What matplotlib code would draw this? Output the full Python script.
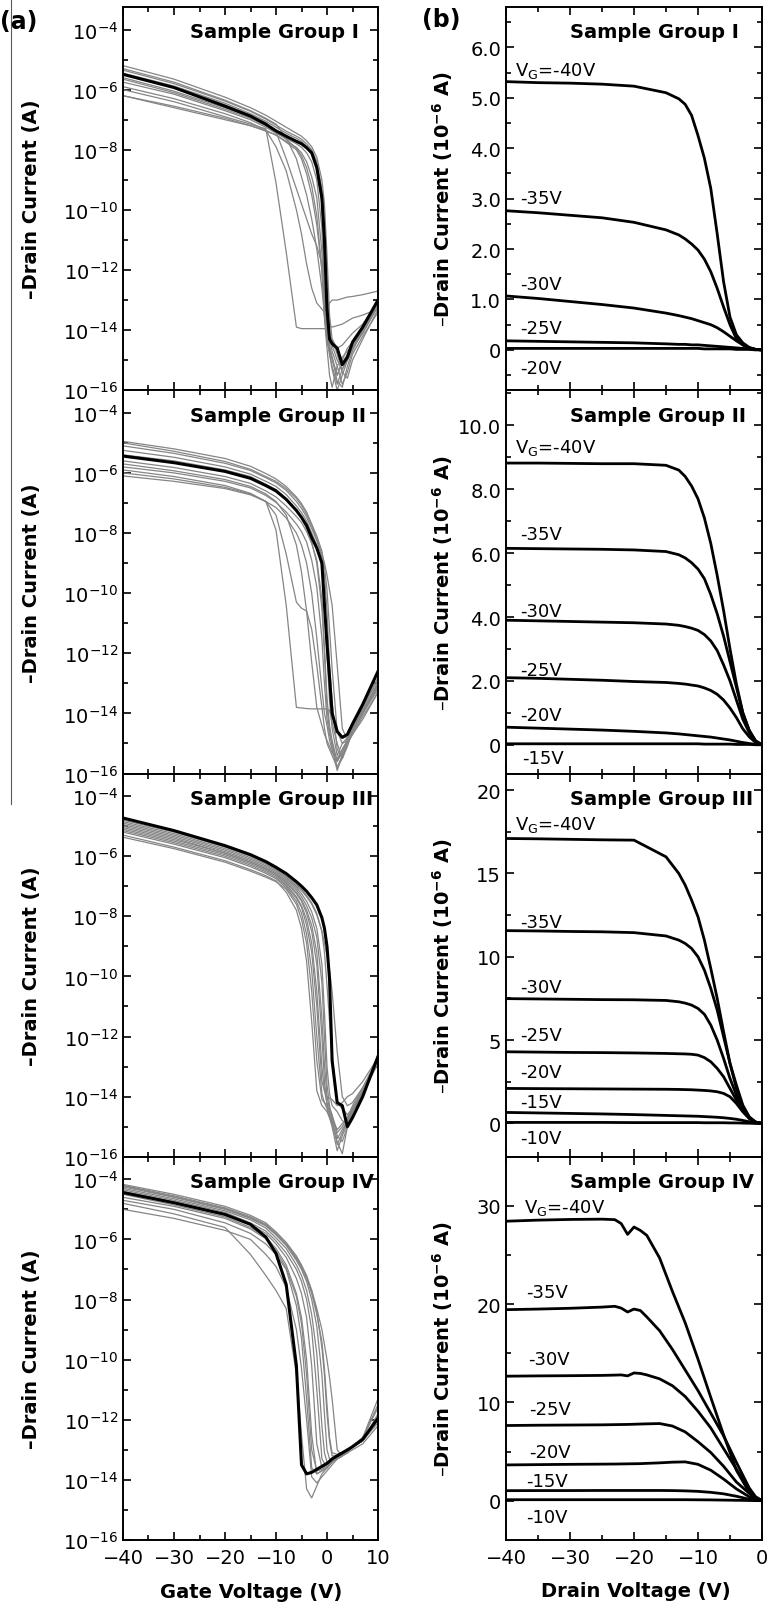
import matplotlib.pyplot as plt
from matplotlib.ticker import MultipleLocator, FixedLocator, NullFormatter, FuncFormatter
from matplotlib.lines import Line2D

# ---------------- (a) transfer curves, log10(-Id) on a shared gate-voltage grid
vg = [-40, -30, -20, -15, -12, -10, -8, -6, -5, -4, -3, -2, -1, -0.5, 0, 0.5, 1, 2, 3, 4, 5, 7, 10]

t1_black = [-5.49, -5.93, -6.55, -6.88, -7.15, -7.37, -7.55, -7.72, -7.8, -7.93, -8.1, -8.6, -9.6, -11.0, -13.3, -14.3, -14.45, -14.6, -15.15, -14.9, -14.4, -13.9, -13.0]
t1_gray = [
    [-5.2, -5.65, -6.25, -6.6, -6.85, -7.05, -7.25, -7.45, -7.55, -7.7, -7.9, -8.25, -9.0, -9.8, -11.5, -13.5, -14.3, -14.8, -15.4, -15.6, -15.0, -14.3, -13.3],
    [-5.35, -5.8, -6.38, -6.72, -6.98, -7.18, -7.38, -7.55, -7.65, -7.8, -8.0, -8.4, -9.3, -10.5, -12.6, -14.2, -14.7, -15.2, -15.8, -15.4, -14.8, -14.2, -13.4],
    [-5.6, -6.05, -6.6, -6.92, -7.18, -7.38, -7.55, -7.7, -7.8, -7.95, -8.15, -8.6, -9.7, -11.6, -13.6, -14.5, -14.9, -15.5, -15.1, -14.8, -14.5, -13.9, -13.1],
    [-5.75, -6.15, -6.7, -7.0, -7.25, -7.45, -7.62, -7.8, -7.92, -8.1, -8.4, -9.0, -10.6, -12.8, -14.2, -14.8, -15.3, -16.0, -15.5, -15.0, -14.6, -14.1, -13.2],
    [-5.9, -6.3, -6.8, -7.1, -7.35, -7.52, -7.72, -7.92, -8.1, -8.4, -8.9, -9.6, -11.4, -13.5, -14.4, -14.7, -14.9, -15.7, -15.9, -15.2, -14.7, -14.0, -13.0],
    [-6.2, -6.55, -6.95, -7.2, -7.38, -7.5, -7.75, -8.0, -8.3, -8.8, -9.5, -10.5, -12.0, -13.2, -14.0, -14.3, -14.5, -15.0, -15.3, -15.0, -14.6, -14.0, -13.1],
    [-6.0, -6.4, -6.9, -7.15, -7.3, -9.1, -11.4, -13.9, -13.95, -13.95, -13.95, -13.95, -13.95, -13.95, -14.0, -14.2, -14.3, -14.6, -14.5, -14.3, -14.1, -13.8, -13.1],
    [-6.2, -6.6, -7.0, -7.2, -7.35, -7.9, -8.7, -10.0, -10.8, -11.8, -12.6, -13.1, -13.3, -13.4, -13.3, -13.1, -13.0, -13.0, -12.95, -12.9, -12.88, -12.82, -12.7],
    [-5.5, -5.9, -6.5, -6.85, -7.1, -7.4, -8.3, -9.3, -9.8, -10.3, -10.8, -11.2, -11.8, -12.8, -13.8, -14.6, -15.0, -15.5, -15.0, -14.6, -14.4, -13.9, -13.0],
    [-5.3, -5.75, -6.35, -6.7, -6.95, -7.15, -7.6, -8.3, -8.9, -9.5, -10.3, -11.3, -12.6, -13.5, -14.2, -14.8, -15.2, -15.8, -15.3, -15.0, -14.6, -14.1, -13.2],
    [-5.45, -5.88, -6.45, -6.8, -7.05, -7.25, -7.45, -7.62, -7.72, -7.88, -8.1, -8.6, -9.8, -11.5, -13.2, -13.85, -13.9, -13.85, -13.8, -13.7, -13.6, -13.5, -13.3],
    [-5.65, -6.1, -6.65, -6.95, -7.2, -7.42, -7.65, -7.95, -8.2, -8.6, -9.2, -10.2, -12.0, -13.6, -14.6, -15.5, -15.9, -15.2, -14.9, -14.7, -14.5, -14.0, -13.2],
]

t2_black = [-5.44, -5.66, -5.95, -6.18, -6.42, -6.6, -6.88, -7.25, -7.48, -7.75, -8.15, -8.5, -9.0, -10.4, -11.7, -12.8, -14.0, -14.6, -14.8, -14.7, -14.35, -13.7, -12.6]
t2_gray = [
    [-4.95, -5.2, -5.52, -5.78, -6.02, -6.2, -6.45, -6.8, -7.02, -7.3, -7.7, -8.1, -8.6, -9.1, -9.9, -11.2, -12.5, -14.6, -15.0, -14.8, -14.5, -13.9, -13.0],
    [-5.1, -5.35, -5.68, -5.92, -6.16, -6.33, -6.58, -6.95, -7.18, -7.47, -7.85, -8.25, -8.8, -9.4, -10.6, -12.4, -13.6, -15.2, -15.5, -15.1, -14.6, -14.0, -13.0],
    [-5.25, -5.48, -5.8, -6.04, -6.28, -6.45, -6.72, -7.1, -7.32, -7.6, -8.0, -8.4, -9.1, -10.0, -12.0, -13.6, -14.5, -15.4, -15.0, -14.9, -14.5, -13.8, -12.9],
    [-5.6, -5.82, -6.12, -6.35, -6.6, -6.8, -7.1, -7.45, -7.65, -7.95, -8.35, -8.9, -10.2, -11.8, -13.5, -14.4, -14.9, -15.6, -15.2, -14.9, -14.4, -13.8, -12.8],
    [-5.8, -6.0, -6.28, -6.5, -6.75, -6.98, -7.3, -7.7, -7.95, -8.3, -8.9, -9.8, -11.5, -13.0, -14.2, -14.7, -15.0, -15.8, -15.5, -15.0, -14.6, -14.0, -13.1],
    [-6.1, -6.28, -6.52, -6.73, -6.95, -7.15, -7.5, -8.0, -8.4, -9.0, -10.0, -11.5, -13.2, -14.0, -14.4, -14.9, -15.2, -15.9, -15.4, -15.0, -14.7, -14.2, -13.3],
    [-5.9, -6.12, -6.42, -6.68, -6.95, -7.9, -10.4, -13.8, -13.82, -13.84, -13.85, -13.85, -13.85, -13.85, -13.85, -13.9, -14.3, -15.0, -15.5, -15.0, -14.7, -14.1, -13.3],
    [-6.0, -6.2, -6.48, -6.7, -6.95, -7.4, -8.7, -10.3, -10.5, -10.6, -11.2, -12.4, -13.8, -14.5, -15.0, -15.2, -15.4, -15.8, -15.4, -15.0, -14.6, -14.0, -13.2],
    [-5.7, -5.93, -6.22, -6.45, -6.7, -6.95, -7.4, -8.4, -9.3, -10.6, -12.3, -13.8, -14.4, -14.7, -14.9, -15.1, -15.3, -15.5, -15.2, -14.9, -14.5, -13.9, -13.1],
    [-5.0, -5.28, -5.62, -5.88, -6.12, -6.28, -6.52, -6.85, -7.08, -7.38, -7.75, -8.2, -8.7, -9.0, -9.4, -9.9, -10.4, -12.4, -14.5, -14.9, -14.6, -14.0, -13.1],
    [-5.4, -5.6, -5.9, -6.12, -6.38, -6.55, -6.85, -7.25, -7.5, -7.85, -8.3, -9.0, -10.5, -12.0, -13.8, -14.6, -15.1, -15.6, -15.3, -14.9, -14.5, -13.9, -13.0],
]

t3_black = [-4.73, -5.15, -5.65, -5.95, -6.18, -6.37, -6.58, -6.85, -7.0, -7.17, -7.38, -7.62, -8.05, -8.4, -9.0, -10.1, -12.8, -14.2, -14.3, -15.0, -14.7, -14.0, -12.66]
t3_gray = [
    [-4.8, -5.2, -5.7, -6.0, -6.23, -6.43, -6.65, -6.95, -7.1, -7.3, -7.55, -7.9, -8.5, -9.2, -10.3, -11.5, -12.6, -14.2, -14.4, -14.6, -14.4, -13.9, -12.8],
    [-4.9, -5.3, -5.8, -6.1, -6.32, -6.5, -6.75, -7.05, -7.25, -7.5, -7.85, -8.4, -9.6, -11.2, -13.0, -13.9, -14.3, -14.5, -14.8, -14.9, -14.5, -13.9, -12.8],
    [-5.0, -5.4, -5.9, -6.2, -6.42, -6.6, -6.85, -7.2, -7.45, -7.8, -8.3, -9.2, -11.4, -12.9, -14.0, -14.4, -14.6, -15.2, -15.0, -14.7, -14.4, -13.8, -12.7],
    [-5.1, -5.5, -5.95, -6.25, -6.47, -6.65, -6.95, -7.35, -7.65, -8.1, -8.9, -10.5, -13.0, -13.8, -14.2, -14.5, -14.8, -15.6, -15.2, -14.8, -14.4, -13.8, -12.8],
    [-5.2, -5.6, -6.05, -6.35, -6.57, -6.75, -7.05, -7.5, -7.9, -8.6, -9.8, -12.0, -13.9, -14.2, -14.4, -14.7, -15.0, -15.8, -15.3, -14.9, -14.5, -13.9, -12.9],
    [-5.3, -5.7, -6.15, -6.45, -6.65, -6.82, -7.2, -7.8, -8.4, -9.5, -11.5, -13.8, -14.3, -14.4, -14.5, -14.7, -14.9, -15.4, -15.1, -14.8, -14.4, -13.8, -12.8],
    [-5.37, -5.75, -6.2, -6.5, -6.7, -6.85, -7.1, -7.6, -8.1, -8.9, -10.5, -12.8, -14.1, -14.2, -14.3, -14.5, -14.7, -15.1, -14.9, -14.7, -14.3, -13.7, -12.7],
    [-4.85, -5.25, -5.75, -6.05, -6.27, -6.45, -6.7, -7.0, -7.15, -7.35, -7.6, -7.95, -8.5, -8.9, -9.3, -9.8, -10.5, -12.5, -14.0, -14.3, -14.2, -13.7, -12.8],
    [-5.05, -5.45, -5.9, -6.2, -6.42, -6.6, -6.9, -7.25, -7.5, -7.9, -8.5, -9.6, -12.0, -13.5, -14.3, -14.6, -14.9, -15.5, -15.9, -15.0, -14.5, -13.8, -12.8],
    [-5.15, -5.55, -6.0, -6.3, -6.52, -6.7, -7.0, -7.4, -7.7, -8.3, -9.2, -11.0, -13.5, -13.8, -14.0, -14.05, -14.1, -14.3, -14.2, -14.0, -13.9, -13.5, -12.7],
    [-4.95, -5.35, -5.85, -6.15, -6.37, -6.55, -6.8, -7.12, -7.35, -7.65, -8.05, -8.7, -10.2, -12.0, -13.6, -14.3, -14.7, -15.3, -15.5, -15.0, -14.5, -13.9, -12.8],
]

t4_black = [-4.44, -4.78, -5.17, -5.5, -5.92, -6.47, -7.5, -10.2, -13.5, -13.8, -13.75, -13.65, -13.55, -13.5, -13.45, -13.38, -13.3, -13.2, -13.1, -13.0, -12.9, -12.65, -11.95]
t4_gray = [
    [-4.17, -4.5, -4.9, -5.2, -5.45, -5.75, -6.1, -6.55, -6.85, -7.2, -7.7, -8.4, -9.6, -10.5, -11.8, -12.7, -13.2, -13.2, -13.1, -13.0, -12.9, -12.7, -12.0],
    [-4.25, -4.6, -5.0, -5.3, -5.55, -5.85, -6.2, -6.7, -7.0, -7.4, -8.0, -8.9, -10.5, -11.8, -13.0, -13.3, -13.35, -13.2, -13.1, -13.0, -12.9, -12.7, -11.8],
    [-4.3, -4.65, -5.05, -5.35, -5.62, -5.95, -6.3, -6.85, -7.2, -7.7, -8.5, -9.8, -12.2, -13.1, -13.4, -13.38, -13.35, -13.25, -13.1, -13.0, -12.85, -12.6, -11.6],
    [-4.35, -4.7, -5.1, -5.45, -5.72, -6.05, -6.45, -7.0, -7.4, -8.0, -9.0, -11.0, -13.3, -13.45, -13.5, -13.45, -13.4, -13.3, -13.15, -13.0, -12.9, -12.6, -11.9],
    [-4.4, -4.75, -5.15, -5.5, -5.8, -6.15, -6.6, -7.3, -7.8, -8.6, -10.2, -12.8, -13.6, -13.55, -13.5, -13.45, -13.4, -13.3, -13.2, -13.05, -12.9, -12.7, -12.0],
    [-4.5, -4.85, -5.25, -5.6, -5.92, -6.3, -6.85, -7.8, -8.6, -10.0, -12.5, -13.8, -13.7, -13.65, -13.6, -13.5, -13.4, -13.3, -13.2, -13.1, -12.9, -12.7, -12.1],
    [-4.2, -4.55, -4.95, -5.25, -5.5, -5.8, -6.15, -6.6, -6.9, -7.25, -7.7, -8.3, -9.0, -9.5, -10.0, -10.6, -11.3, -13.0, -13.2, -13.05, -12.9, -12.6, -11.3],
    [-4.8, -5.15, -5.6, -6.5, -7.2, -7.7, -8.3, -10.5, -12.5, -14.3, -14.6, -14.2, -13.8, -13.7, -13.6, -13.5, -13.4, -13.3, -13.2, -13.1, -13.0, -12.8, -12.2],
    [-5.0, -5.3, -5.7, -6.0, -6.5, -6.9, -7.6, -9.0, -10.3, -12.0, -13.9, -14.1, -13.9, -13.8, -13.7, -13.6, -13.5, -13.3, -13.2, -13.1, -12.9, -12.7, -12.0],
    [-4.7, -5.0, -5.45, -5.8, -6.15, -6.5, -7.0, -8.2, -9.3, -11.3, -13.6, -13.8, -13.7, -13.65, -13.6, -13.5, -13.4, -13.3, -13.15, -13.0, -12.9, -12.65, -12.0],
    [-4.22, -4.58, -4.98, -5.28, -5.52, -5.82, -6.18, -6.65, -6.95, -7.3, -7.8, -8.5, -9.4, -10.3, -11.5, -12.6, -13.1, -13.15, -13.1, -13.0, -12.9, -12.6, -11.5],
    [-4.6, -4.9, -5.3, -5.65, -5.98, -6.38, -6.95, -7.9, -8.8, -10.5, -13.0, -13.7, -13.65, -13.6, -13.55, -13.5, -13.4, -13.3, -13.2, -13.05, -12.9, -12.7, -12.0],
]

# ---------------- (b) output curves, -Id in 1e-6 A
vd = [-40, -35, -30, -25, -20, -15, -13, -12, -11, -10, -9, -8, -7, -6, -5, -4, -3, -2, -1, 0]
vd4 = [-40, -35, -30, -25, -23, -22, -21, -20, -19, -18, -16, -14, -12, -10, -8, -6, -4, -2, -1, 0]

o1_vg = ["V$_\\mathregular{G}$=-40V", "-35V", "-30V", "-25V", "-20V"]
o1_id = [
    [5.32, 5.3, 5.29, 5.27, 5.23, 5.1, 4.98, 4.87, 4.65, 4.25, 3.8, 3.2, 2.3, 1.35, 0.65, 0.3, 0.14, 0.05, 0.01, 0.0],
    [2.76, 2.72, 2.67, 2.62, 2.53, 2.38, 2.28, 2.2, 2.1, 1.98, 1.8, 1.55, 1.22, 0.85, 0.5, 0.22, 0.1, 0.04, 0.01, 0.0],
    [1.07, 1.02, 0.96, 0.9, 0.83, 0.73, 0.68, 0.65, 0.62, 0.58, 0.54, 0.5, 0.44, 0.36, 0.27, 0.18, 0.1, 0.04, 0.01, 0.0],
    [0.18, 0.17, 0.16, 0.15, 0.14, 0.12, 0.11, 0.11, 0.1, 0.1, 0.09, 0.08, 0.07, 0.06, 0.05, 0.04, 0.03, 0.02, 0.01, 0.0],
    [0.03, 0.03, 0.03, 0.03, 0.03, 0.03, 0.03, 0.03, 0.03, 0.03, 0.02, 0.02, 0.02, 0.02, 0.02, 0.01, 0.01, 0.01, 0.0, 0.0],
]

o2_vg = ["V$_\\mathregular{G}$=-40V", "-35V", "-30V", "-25V", "-20V", "-15V"]
o2_id = [
    [8.82, 8.82, 8.81, 8.8, 8.8, 8.75, 8.6, 8.4, 8.1, 7.7, 7.1, 6.3, 5.3, 4.2, 3.0, 1.9, 1.0, 0.45, 0.12, 0.0],
    [6.15, 6.14, 6.13, 6.12, 6.1, 6.05, 5.95, 5.85, 5.7, 5.5, 5.2, 4.7, 4.1, 3.4, 2.6, 1.8, 1.0, 0.45, 0.12, 0.0],
    [3.9, 3.88, 3.86, 3.84, 3.82, 3.78, 3.74, 3.7, 3.65, 3.58, 3.45, 3.25, 2.95, 2.5, 2.0, 1.4, 0.8, 0.38, 0.1, 0.0],
    [2.1, 2.08, 2.05, 2.02, 1.98, 1.95, 1.92, 1.9, 1.87, 1.84, 1.78, 1.7, 1.58, 1.4, 1.15, 0.85, 0.5, 0.25, 0.07, 0.0],
    [0.55, 0.52, 0.49, 0.46, 0.42, 0.37, 0.34, 0.32, 0.3, 0.28, 0.26, 0.24, 0.21, 0.18, 0.15, 0.11, 0.07, 0.04, 0.01, 0.0],
    [0.03, 0.03, 0.03, 0.03, 0.03, 0.03, 0.03, 0.03, 0.03, 0.03, 0.02, 0.02, 0.02, 0.02, 0.02, 0.01, 0.01, 0.01, 0.0, 0.0],
]

o3_vg = ["V$_\\mathregular{G}$=-40V", "-35V", "-30V", "-25V", "-20V", "-15V", "-10V"]
o3_id = [
    [17.1, 17.08, 17.05, 17.02, 17.0, 16.0, 15.0, 14.3, 13.4, 12.4, 11.0, 9.3, 7.5, 5.5, 3.6, 2.1, 1.0, 0.35, 0.08, 0.0],
    [11.57, 11.55, 11.52, 11.5, 11.45, 11.25, 11.0, 10.8, 10.5, 10.0, 9.2, 8.1, 6.8, 5.2, 3.6, 2.3, 1.1, 0.4, 0.08, 0.0],
    [7.49, 7.47, 7.45, 7.43, 7.42, 7.38, 7.3, 7.22, 7.1, 6.9, 6.55, 5.9, 5.0, 3.9, 2.7, 1.7, 0.9, 0.35, 0.08, 0.0],
    [4.3, 4.28, 4.26, 4.25, 4.23, 4.2, 4.18, 4.17, 4.15, 4.1, 3.95, 3.7, 3.3, 2.8, 2.1, 1.4, 0.75, 0.3, 0.06, 0.0],
    [2.1, 2.09, 2.08, 2.07, 2.06, 2.05, 2.04, 2.03, 2.02, 2.0, 1.98, 1.95, 1.9, 1.8, 1.6, 1.2, 0.7, 0.3, 0.06, 0.0],
    [0.66, 0.63, 0.6, 0.57, 0.53, 0.48, 0.46, 0.45, 0.44, 0.43, 0.41, 0.39, 0.37, 0.34, 0.3, 0.25, 0.18, 0.1, 0.03, 0.0],
    [0.06, 0.06, 0.06, 0.06, 0.05, 0.05, 0.05, 0.05, 0.05, 0.05, 0.04, 0.04, 0.04, 0.04, 0.03, 0.03, 0.02, 0.01, 0.0, 0.0],
]

o4_vg = ["V$_\\mathregular{G}$=-40V", "-35V", "-30V", "-25V", "-20V", "-15V", "-10V"]
o4_id = [
    [28.44, 28.55, 28.62, 28.65, 28.6, 28.2, 27.1, 27.85, 27.5, 27.0, 24.7, 21.3, 18.1, 14.4, 10.5, 6.7, 3.1, 0.85, 0.25, 0.0],
    [19.44, 19.5, 19.58, 19.7, 19.78, 19.6, 19.2, 19.5, 19.35, 18.7, 17.3, 15.4, 13.3, 11.2, 8.9, 6.6, 3.9, 1.3, 0.4, 0.0],
    [12.67, 12.7, 12.72, 12.75, 12.78, 12.8, 12.7, 13.0, 12.95, 12.8, 12.4, 11.7, 10.6, 9.1, 7.4, 5.3, 3.2, 1.1, 0.35, 0.0],
    [7.65, 7.68, 7.7, 7.72, 7.74, 7.75, 7.76, 7.78, 7.8, 7.82, 7.85, 7.6, 7.0, 6.0, 4.9, 3.5, 1.9, 0.75, 0.25, 0.0],
    [3.64, 3.67, 3.7, 3.72, 3.73, 3.74, 3.75, 3.76, 3.77, 3.8, 3.85, 3.92, 3.95, 3.7, 3.1, 2.2, 1.2, 0.4, 0.12, 0.0],
    [1.02, 1.03, 1.03, 1.04, 1.04, 1.04, 1.04, 1.04, 1.04, 1.04, 1.04, 1.03, 1.0, 0.95, 0.85, 0.7, 0.45, 0.15, 0.05, 0.0],
    [0.1, 0.1, 0.1, 0.1, 0.1, 0.1, 0.1, 0.1, 0.1, 0.1, 0.1, 0.1, 0.1, 0.09, 0.08, 0.06, 0.04, 0.02, 0.01, 0.0],
]

groups = ["Sample Group I", "Sample Group II", "Sample Group III", "Sample Group IV"]

# ---------------- layout (pixels of the 767x1606 figure)
W, H = 767.0, 1606.0
ROW_TOP, ROW_H = 8.0, 383.25

transfer = [(t1_black, t1_gray), (t2_black, t2_gray), (t3_black, t3_gray), (t4_black, t4_gray)]
output = [(vd, o1_vg, o1_id), (vd, o2_vg, o2_id), (vd, o3_vg, o3_id), (vd4, o4_vg, o4_id)]
out_ylim = [(-0.8, 6.8), (-0.9, 11.1), (-2.0, 21.0), (-4.0, 35.0)]
out_major = [1.0, 2.0, 5.0, 10.0]
out_fmt = ["%.1f", "%.1f", "%d", "%d"]
# label anchors (Vd, Id) for each curve label
out_lab = [
    [(-38.6, 5.55), (-37.8, 3.02), (-37.8, 1.3), (-37.8, 0.44), (-37.8, -0.35)],
    [(-38.6, 9.33), (-37.8, 6.6), (-37.8, 4.2), (-37.8, 2.33), (-37.8, 0.93), (-37.5, -0.43)],
    [(-38.6, 17.96), (-37.8, 12.1), (-37.8, 8.2), (-37.8, 5.3), (-37.8, 3.1), (-37.8, 1.3), (-37.8, -0.9)],
    [(-37.2, 29.9), (-36.8, 21.2), (-36.6, 14.4), (-36.4, 9.34), (-36.4, 4.93), (-36.8, 2.04), (-36.8, -1.7)],
]

plt.rcParams['font.family'] = ['DejaVu Sans']

fig = plt.figure(figsize=(W / 100, H / 100), dpi=100)


def style(ax):
    ax.tick_params(which='both', direction='in', top=True, right=True, width=1.2, labelsize=14)
    ax.tick_params(which='major', length=6)
    ax.tick_params(which='minor', length=3.5)
    ax.tick_params(axis='x', pad=6)
    for s in ax.spines.values():
        s.set_linewidth(1.4)


for i in range(4):
    top = ROW_TOP + ROW_H * i
    y0 = 1 - (top + ROW_H) / H
    axl = fig.add_axes([123 / W, y0, 255 / W, ROW_H / H])
    axr = fig.add_axes([506 / W, y0, 256 / W, ROW_H / H])

    # transfer curve panel
    black, gray = transfer[i]
    for g in gray:
        axl.plot(vg, [10.0 ** v for v in g], color='#858585', lw=0.9)
    axl.plot(vg, [10.0 ** v for v in black], color='black', lw=2.2)
    axl.set_yscale('log')
    axl.set_xlim(-40, 10)
    axl.set_ylim(1e-16, 10 ** -3.25)
    axl.yaxis.set_major_locator(FixedLocator([10.0 ** k for k in range(-16, -3, 2)]))
    axl.yaxis.set_minor_locator(FixedLocator([10.0 ** k for k in range(-15, -3, 2)]))
    axl.yaxis.set_minor_formatter(NullFormatter())
    axl.xaxis.set_major_locator(MultipleLocator(10))
    axl.xaxis.set_minor_locator(MultipleLocator(5))
    style(axl)
    axl.text((190 - 123) / 255, 0.935, groups[i], transform=axl.transAxes,
             fontsize=14, fontweight='bold', ha='left', va='center')

    # output curve panel
    xs, names, curves = output[i]
    for c in curves:
        axr.plot(xs, c, color='black', lw=2.0, solid_capstyle='round')
    for name, (lx, ly) in zip(names, out_lab[i]):
        axr.text(lx, ly, name, fontsize=13, ha='left', va='center')
    axr.set_xlim(-40, 0)
    axr.set_ylim(*out_ylim[i])
    axr.yaxis.set_major_locator(MultipleLocator(out_major[i]))
    axr.yaxis.set_minor_locator(MultipleLocator(out_major[i] / 2))
    fmt = out_fmt[i]
    axr.yaxis.set_major_formatter(FuncFormatter(lambda v, p, f=fmt: "0" if abs(v) < 1e-9 else f % v))
    axr.xaxis.set_major_locator(MultipleLocator(10))
    axr.xaxis.set_minor_locator(MultipleLocator(5))
    style(axr)
    axr.text((570 - 506) / 256, 0.935, groups[i], transform=axr.transAxes,
             fontsize=14, fontweight='bold', ha='left', va='center')

    if i < 3:
        axl.tick_params(labelbottom=False)
        axr.tick_params(labelbottom=False)

    yc = 1 - (top + ROW_H / 2) / H
    fig.text(32 / W, yc, "\u2013Drain Current (A)", rotation=90, fontsize=14,
             fontweight='bold', ha='center', va='center')
    fig.text(443 / W, yc, "\u2013Drain Current (10$^{\\mathbf{-6}}$ A)", rotation=90,
             fontsize=14, fontweight='bold', ha='center', va='center')

fig.text(251 / W, 1 - 1593 / H, "Gate Voltage (V)", fontsize=14, fontweight='bold',
         ha='center', va='center')
fig.text(636 / W, 1 - 1592 / H, "Drain Voltage (V)", fontsize=14, fontweight='bold',
         ha='center', va='center')
fig.text(0 / W, 1 - 22 / H, "(a)", fontsize=17, fontweight='bold', ha='left', va='center')
fig.text(422 / W, 1 - 20 / H, "(b)", fontsize=17, fontweight='bold', ha='left', va='center')

# scanned page edge on the left
fig.add_artist(Line2D([11 / W, 11 / W], [1, 1 - 805 / H], color='0.35', lw=0.8))

fig.savefig("out.png", dpi=100)
